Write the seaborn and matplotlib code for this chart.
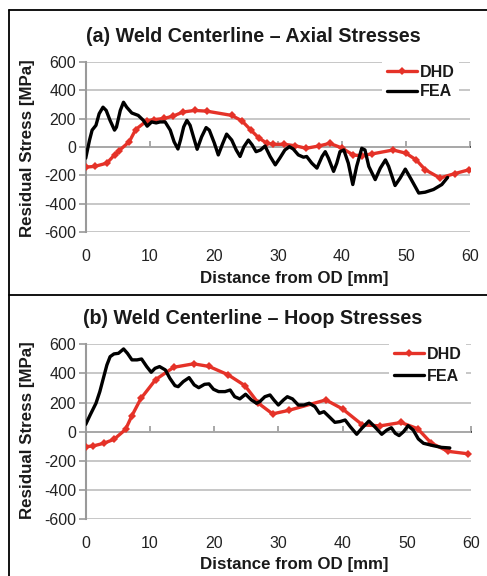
import numpy as np
import pandas as pd
import matplotlib
matplotlib.use("Agg")
import matplotlib.pyplot as plt
import seaborn as sns

# (a) axial stresses - DHD measurements
axial_dhd_x = [0, 1.4, 3.3, 4.5, 5.2, 6.8, 7.8, 9.5, 10.6, 12.3, 13.7, 15.2, 17.0,
               18.9, 22.8, 24.4, 25.8, 27.0, 28.3, 29.3, 30.9, 32.7, 34.4, 36.4,
               38.1, 40.0, 41.8, 43.1, 44.7, 48.0, 50.0, 51.6, 53.0, 55.3, 57.6, 59.9]
axial_dhd_y = [-142, -137, -114, -56, -26, 37, 123, 184, 193, 202, 219, 247, 258,
               253, 223, 184, 119, 65, 26, 19, 19, 9, -9, 7,
               26, -7, -58, -60, -49, -21, -44, -91, -160, -219, -188, -160]

# (a) axial stresses - FEA
axial_fea_x = [0, 0.6, 1.0, 1.6, 2.1, 2.7, 3.2, 3.8, 4.5, 4.8, 5.4, 5.9, 6.4, 7.2, 8.2,
               9.0, 9.6, 10.3, 11.0, 11.6, 12.4, 13.2, 13.8, 14.4, 14.8, 15.3, 15.8,
               16.3, 16.9, 17.4, 18.1, 18.8, 19.3, 20.1, 20.7, 21.4, 22.0, 22.8, 23.5,
               24.1, 24.7, 25.4, 26.0, 26.6, 27.3, 28.0, 28.8, 29.6, 30.3, 31.1, 31.8,
               32.4, 33.2, 34.0, 34.5, 35.3, 36.1, 36.9, 37.4, 37.9, 38.7, 39.2, 39.7,
               40.3, 41.0, 41.7, 42.3, 43.1, 43.6, 44.2, 45.2, 46.0, 46.8, 47.3, 48.3,
               49.1, 49.9, 50.7, 52.0, 53.0, 54.3, 55.6, 56.5]
axial_fea_y = [-79, 49, 119, 153, 235, 281, 258, 188, 119, 140, 258, 316, 281, 240, 223,
               188, 147, 177, 170, 177, 177, 119, 37, -14, 49, 142, 188,
               153, 60, -16, 72, 137, 119, 26, -56, 26, 91, 49, -21,
               -67, 2, 49, 14, -33, -21, 7, -67, -126, -79, -21, 2,
               -14, -56, -72, -67, -114, -149, -67, -33, -79, -172, -114, -33,
               -21, -114, -265, -137, -9, -21, -137, -230, -149, -91, -137, -272,
               -219, -156, -219, -325, -319, -300, -265, -215]

# (b) hoop stresses - DHD measurements
hoop_dhd_x = [0, 1.1, 2.8, 4.4, 6.2, 7.2, 8.6, 10.9, 13.7, 16.8, 19.2, 22.2, 24.8,
              26.9, 29.1, 31.6, 37.4, 40.0, 43.1, 45.9, 49.1, 51.7, 53.8, 56.4, 59.5]
hoop_dhd_y = [-103, -99, -80, -53, 15, 110, 228, 358, 442, 466, 448, 390, 316,
              195, 122, 146, 218, 156, 46, 40, 63, 20, -78, -135, -152]

# (b) hoop stresses - FEA
hoop_fea_x = [0, 0.7, 1.6, 2.2, 2.75, 3.3, 3.8, 4.4, 5.1, 5.9, 6.5, 7.2, 8.0, 8.7,
              9.5, 10.2, 10.8, 11.5, 12.4, 13.1, 13.9, 14.4, 15.2, 16.1, 16.9, 17.6,
              18.5, 19.2, 19.9, 20.7, 21.7, 22.5, 23.2, 24.0, 24.9, 25.8, 26.6, 27.1,
              27.9, 28.7, 29.3, 30.0, 30.8, 31.4, 32.2, 33.1, 34.0, 34.8, 35.7, 36.4,
              37.1, 37.9, 38.8, 39.6, 40.4, 41.2, 42.2, 43.0, 44.1, 45.0, 46.1, 46.9,
              47.6, 48.2, 48.8, 49.5, 50.2, 51.0, 51.8, 52.6, 54.1, 55.4, 56.7]
hoop_fea_y = [50, 115, 195, 275, 367, 458, 515, 534, 538, 568, 538, 493, 493, 499,
              447, 408, 435, 447, 424, 367, 316, 309, 344, 371, 321, 302,
              325, 328, 291, 275, 275, 286, 240, 225, 257, 218, 195, 206,
              240, 252, 218, 183, 218, 240, 225, 183, 183, 195, 172, 126,
              137, 103, 64, 69, 80, 34, -18, 23, 73, 34, -18, 11,
              27, -11, -27, 0, 41, 11, -50, -80, -96, -108, -112]

titles = ["(a) Weld Centerline \u2013 Axial Stresses", "(b) Weld Centerline \u2013 Hoop Stresses"]
xticks = [0, 10, 20, 30, 40, 50, 60]
yticks = [-600, -400, -200, 0, 200, 400, 600]

sns.set_theme(style="white")
plt.rcParams['font.family'] = ['Liberation Sans', 'DejaVu Sans']

W, H = 487, 576
fig = plt.figure(figsize=(W / 100, H / 100), dpi=100)

red = "#E53228"
grid_c = "#BEBEBE"
axis_c = "#9A9A9A"

# plot box, title y, ylabel y, xlabel y, legend left, legend label spacing
panels = [
    (axial_dhd_x, axial_dhd_y, axial_fea_x, axial_fea_y, (85.7, 62, 470, 232), 36, 148, 279, 374, 0.3),
    (hoop_dhd_x, hoop_dhd_y, hoop_fea_x, hoop_fea_y, (85.7, 344.3, 471, 519), 318, 430, 564, 381, 0.45),
]

for i, (dx, dy, fx, fy, box, ty, yly, xly, legx, lsp) in enumerate(panels):
    l, t, r, b = box
    ax = fig.add_axes([l / W, 1 - b / H, (r - l) / W, (b - t) / H])
    dhd = pd.DataFrame({"x": dx, "y": dy})
    fea = pd.DataFrame({"x": fx, "y": fy})
    sns.lineplot(data=dhd, x="x", y="y", ax=ax, color=red, lw=2.4, marker="D",
                 markersize=4, markeredgewidth=0, label="DHD", zorder=3)
    sns.lineplot(data=fea, x="x", y="y", ax=ax, color="black", lw=2.4, label="FEA", zorder=4)
    ax.set_xlim(0, 60)
    ax.set_ylim(-600, 600)
    ax.set_xticks(xticks)
    ax.set_yticks(yticks)
    ax.set_yticklabels([str(v) for v in yticks], fontsize=11.5, color="#222222")
    ax.set_xticklabels([str(v) for v in xticks], fontsize=11.5, color="#222222")
    ax.grid(axis="y", color=grid_c, lw=1.2)
    ax.grid(axis="x", visible=False)
    for s in ["top", "right", "bottom"]:
        ax.spines[s].set_visible(False)
    ax.spines["left"].set_color(axis_c)
    ax.spines["left"].set_linewidth(1.5)
    ax.tick_params(axis="y", length=5, width=1.2, color=axis_c, pad=2, left=True)
    ax.tick_params(axis="x", length=0, pad=12)
    # horizontal axis at zero with its tick marks
    sec = ax.secondary_xaxis(0.5)
    sec.set_xticks(xticks)
    sec.set_xticklabels([])
    sec.tick_params(axis="x", direction="out", length=4, width=1.2, color=axis_c)
    sec.spines["bottom"].set_color(axis_c)
    sec.spines["bottom"].set_linewidth(1.5)
    ax.set_xlabel("")
    ax.set_ylabel("")
    leg = ax.legend(loc="upper left", bbox_to_anchor=((legx - l) / (r - l), 1.06),
                    frameon=True, facecolor="white", edgecolor="none", framealpha=1,
                    fancybox=False, handlelength=1.9, handletextpad=0.15,
                    labelspacing=lsp, borderpad=0.3,
                    prop={"weight": "bold", "size": 11.5})
    for txt in leg.get_texts():
        txt.set_color("#1a1a1a")
    leg.set_zorder(10)
    fig.text(253 / W, 1 - ty / H, titles[i], ha="center", va="center",
             fontsize=14.2, fontweight="bold", color="#1a1a1a")
    fig.text(28 / W, 1 - yly / H, "Residual Stress [MPa]", ha="center", va="center",
             rotation=90, fontsize=12.2, fontweight="bold", color="#1a1a1a")
    fig.text(294 / W, 1 - xly / H, "Distance from OD [mm]", ha="center", va="center",
             fontsize=12.2, fontweight="bold", color="#1a1a1a")

# panel frames
frame_kw = dict(color="black", lw=1.3, transform=fig.transFigure)
fig.add_artist(plt.Line2D([9 / W, 1], [1 - 10 / H, 1 - 10 / H], **frame_kw))
fig.add_artist(plt.Line2D([9 / W, 1], [1 - 295 / H, 1 - 295 / H], **frame_kw))
fig.add_artist(plt.Line2D([9 / W, 9 / W], [0, 1 - 10 / H], **frame_kw))

fig.savefig("out.png", dpi=100)
